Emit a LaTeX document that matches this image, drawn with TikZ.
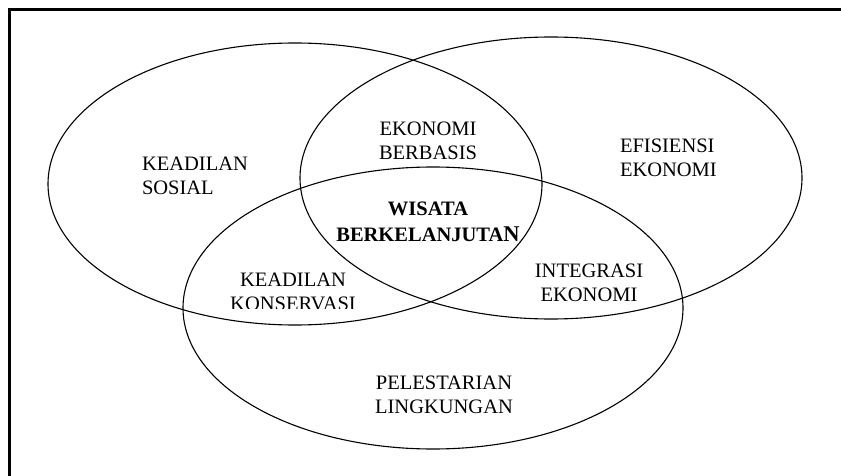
\documentclass[tikz,border=0pt]{standalone}
\usepackage{fontspec}
\setmainfont{Liberation Serif}
\begin{document}
\begin{tikzpicture}[x=1pt,y=-1pt,
  venn/.style={line width=1.1pt},
  lbl/.style={inner sep=0pt,outer sep=0pt,font=\fontsize{20.5}{23.8}\selectfont},
  frame/.style={line width=3pt}]
\useasboundingbox (0,0) rectangle (841,476);
% frame (top and left edges visible)
\draw[frame] (9.5,476) -- (9.5,9.5) -- (841,9.5);
% ellipses
\draw[venn] (295,184) ellipse [x radius=247pt, y radius=141pt];
\draw[venn] (551,178) ellipse [x radius=251pt, y radius=141pt];
\draw[venn] (433,308) ellipse [x radius=250pt, y radius=141pt];
% labels
\node[lbl,anchor=north west,align=left] (sosial) at (142,157) {KEADILAN\\SOSIAL};
\node[lbl,anchor=north,align=center] (berbasis) at (428,122) {EKONOMI\\BERBASIS};
\node[lbl,anchor=north,align=center,font=\fontsize{20.5}{25.5}\selectfont\bfseries] (wisata) at (428,202) {WISATA\\BERKELANJUTA{\fontsize{22.5}{25.5}\selectfont N}};
\node[lbl,anchor=north west,align=left] (efisiensi) at (620,139) {EFISIENSI\\EKONOMI};
\begin{scope}
\clip (200,255) rectangle (400,308.5);
\node[lbl,anchor=north,align=center] (konservasi) at (293,273) {KEADILAN\\KONSERVASI};
\end{scope}
\node[lbl,anchor=north,align=center] (integrasi) at (589,264) {INTEGRASI\\EKONOMI};
\node[lbl,anchor=north,align=center] (pelestarian) at (444,376) {PELESTARIAN\\LINGKUNGAN};
\end{tikzpicture}
\end{document}
